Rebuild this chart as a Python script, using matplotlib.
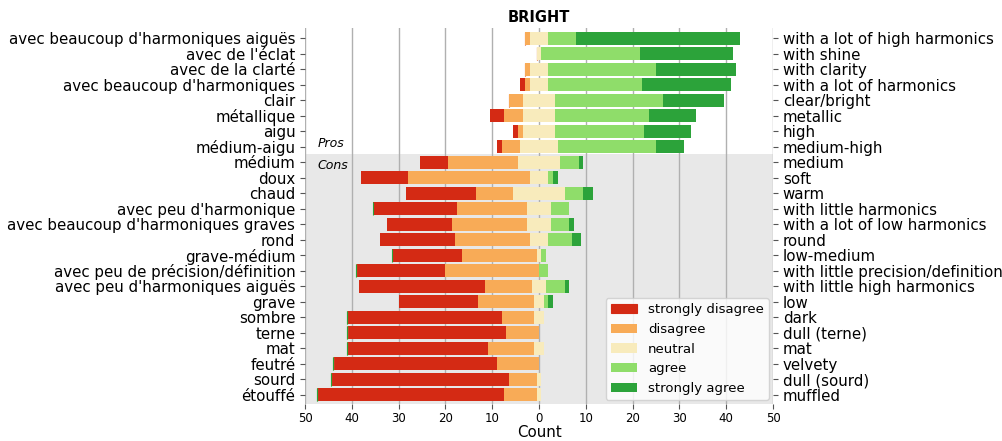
import matplotlib
matplotlib.use("Agg")
import matplotlib.pyplot as plt
import numpy as np

labels_fr = ["avec beaucoup d'harmoniques aiguës", "avec de l'éclat", "avec de la clarté",
             "avec beaucoup d'harmoniques", "clair", "métallique", "aigu", "médium-aigu",
             "médium", "doux", "chaud", "avec peu d'harmonique",
             "avec beaucoup d'harmoniques graves", "rond", "grave-médium",
             "avec peu de précision/définition", "avec peu d'harmoniques aiguës", "grave",
             "sombre", "terne", "mat", "feutré", "sourd", "étouffé"]
labels_en = ["with a lot of high harmonics", "with shine", "with clarity",
             "with a lot of harmonics", "clear/bright", "metallic", "high", "medium-high",
             "medium", "soft", "warm", "with little harmonics",
             "with a lot of low harmonics", "round", "low-medium",
             "with little precision/definition", "with little high harmonics", "low",
             "dark", "dull (terne)", "mat", "velvety", "dull (sourd)", "muffled"]

strongly_disagree = [0, 0, 0, 1, 0, 3, 1, 1, 6, 10, 15, 18, 14, 16, 15, 19, 27, 17, 33, 34, 30, 35, 38, 40]
disagree = [1, 0, 1, 1, 3, 4, 1, 4, 15, 26, 8, 15, 16, 16, 16, 20, 10, 12, 7, 7, 10, 9, 6, 7]
neutral = [4, 1, 4, 4, 7, 7, 7, 8, 9, 4, 11, 5, 5, 4, 1, 0, 3, 2, 2, 0, 2, 0, 1, 1]
agree = [6, 21, 23, 20, 23, 20, 19, 21, 4, 1, 4, 4, 4, 5, 1, 2, 4, 1, 0, 0, 0, 0, 0, 0]
strongly_agree = [35, 20, 17, 19, 13, 10, 10, 6, 1, 1, 2, 0, 1, 2, 0, 0, 1, 1, 0, 0, 0, 0, 0, 0]
n_pros = 8

answers = ["strongly disagree", "disagree", "neutral", "agree", "strongly agree"]
colors = ["#d42a14", "#f8ab57", "#f8ebbc", "#8fdd6a", "#2ca33a"]

series = [np.array(s, dtype=float) for s in
          [strongly_disagree, disagree, neutral, agree, strongly_agree]]
y = np.arange(len(labels_fr))
start = -(series[0] + series[1] + series[2] / 2)

fig = plt.figure(figsize=(10.02, 4.41), dpi=100)
ax = fig.add_axes([0.3044, 0.0839, 0.4671, 0.8526])
ax.set_axisbelow(True)

cum = start.copy()
for vals, col, lab in zip(series, colors, answers):
    # zero counts still leave a thin mark at the start of the row
    left = np.where(vals == 0, start, cum)
    ax.barh(y, vals, left=left, height=0.85, color=col, edgecolor=col,
            linewidth=np.where(vals == 0, 0.8, 0.0), label=lab)
    cum = cum + vals

ax.set_ylim(23.6, -0.66)
ax.axhspan(n_pros - 0.5, 23.6, color="#e8e8e8", zorder=0, lw=0)
ax.grid(axis="x", color="#b0b0b0", lw=1)
ax.set_xlim(-50, 50)
ticks = np.arange(-50, 51, 10)
ax.set_xticks(ticks)
ax.set_xticklabels([str(abs(t)) for t in ticks], fontsize=8.5)
ax.set_yticks(y)
ax.set_yticklabels(labels_fr, fontsize=10.8)
ax.tick_params(axis="both", color="#555555", length=3.5)
ax.tick_params(axis="x", pad=2.5)
for s in ax.spines.values():
    s.set_visible(False)

ax2 = ax.twinx()
ax2.set_ylim(ax.get_ylim())
ax2.set_yticks(y)
ax2.set_yticklabels(labels_en, fontsize=10.8)
ax2.tick_params(axis="y", color="#555555", length=3.5)
for s in ax2.spines.values():
    s.set_visible(False)

ax.text(-47.3, 6.8, "Pros", style="italic", fontsize=9, va="center")
ax.text(-47.3, 8.2, "Cons", style="italic", fontsize=9, va="center")

ax.set_xlabel("Count", fontsize=10.8, labelpad=0)
ax.set_title("BRIGHT", fontweight="bold", fontsize=10.5, pad=4)
ax.legend(loc="lower right", fontsize=9.5, borderaxespad=0.3)

fig.savefig("out.png", dpi=100)
